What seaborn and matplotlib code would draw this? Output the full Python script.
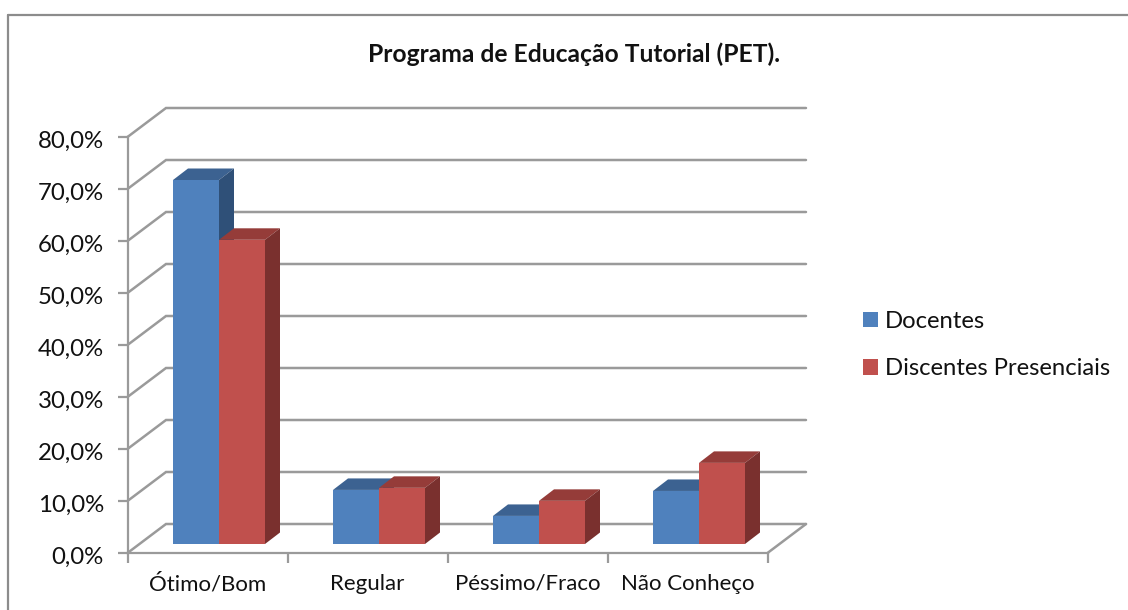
import matplotlib
matplotlib.use("Agg")
import matplotlib.pyplot as plt
from matplotlib.lines import Line2D
from matplotlib.patches import Polygon, Patch
from matplotlib.transforms import ScaledTranslation
import pandas as pd
import seaborn as sns

categorias = ["Ótimo/Bom", "Regular", "Péssimo/Fraco", "Não Conheço"]
docentes = [70.0, 10.4, 5.4, 10.2]
discentes = [58.5, 10.8, 8.3, 15.6]
series = ["Docentes", "Discentes Presenciais"]
y_ticks = [0, 10, 20, 30, 40, 50, 60, 70, 80]

W, H = 1128, 610
GRADE = "#9a9a9a"
cores = {"Docentes": "#4F81BD", "Discentes Presenciais": "#C0504D"}
topo = {"Docentes": "#3C6291", "Discentes Presenciais": "#953C39"}
lado = {"Docentes": "#2F5078", "Discentes Presenciais": "#7A302E"}


def rect(x0, y_topo, x1, y_base):
    """Converte pixels da imagem para a posicao da figura."""
    return [x0 / W, 1 - y_base / H, (x1 - x0) / W, (y_base - y_topo) / H]


sns.set_theme(style="white")
plt.rcParams["font.family"] = ["Lato", "DejaVu Sans"]

df = pd.DataFrame(
    {
        "categoria": categorias * 2,
        "serie": [series[0]] * 4 + [series[1]] * 4,
        "valor": docentes + discentes,
    }
)

fig = plt.figure(figsize=(W / 100, H / 100), dpi=100, facecolor="white")

# moldura externa
fig.add_artist(Line2D([8 / W, 8 / W], [0, 1 - 15 / H], color="#8c8c8c", lw=1.6))
fig.add_artist(Line2D([8 / W, 1], [1 - 15 / H, 1 - 15 / H], color="#8c8c8c", lw=1.6))

# plano frontal: eixos e rotulos
ax = fig.add_axes(rect(127.5, 137, 767.5, 553))
ax.set_xlim(0, 4)
ax.set_ylim(0, 80)
ax.patch.set_visible(False)
sns.despine(ax=ax)
for s in ["left", "bottom"]:
    ax.spines[s].set_color(GRADE)
    ax.spines[s].set_linewidth(1.6)
ax.set_yticks(y_ticks)
ax.set_yticklabels([f"{v:.1f}%".replace(".", ",") for v in y_ticks], fontsize=17.3, color="#111111")
ax.set_xticks(range(5))
ax.set_xticklabels([])
ax.set_xticks([i + 0.5 for i in range(4)], minor=True)
ax.set_xticklabels(categorias, minor=True, fontsize=16, color="#111111")
ax.tick_params(axis="both", which="major", length=7, width=1.6, color=GRADE, left=True, bottom=True, pad=3)
ax.tick_params(axis="y", pad=10)
ax.tick_params(axis="x", which="minor", length=0, pad=15)
desce = ScaledTranslation(0, -2 / 100, fig.dpi_scale_trans)
for rotulo in ax.get_yticklabels():
    rotulo.set_transform(rotulo.get_transform() + desce)

# parede do fundo e chao, com a profundidade em unidades dos dados
prof_x = 38.5 / 160
prof_y = 29 / 5.2
for v in y_ticks:
    ax.plot(
        [0, prof_x, 4 + prof_x], [v, v + prof_y, v + prof_y],
        color=GRADE, lw=1.8, clip_on=False, zorder=1, solid_joinstyle="miter",
    )
ax.plot([4, 4 + prof_x], [0, prof_y], color=GRADE, lw=1.8, clip_on=False, zorder=1)

# barras, deslocadas para dentro da profundidade
ax_b = fig.add_axes(rect(139, 128, 779, 544))
ax_b.patch.set_visible(False)
sns.barplot(
    data=df, x="categoria", y="valor", hue="serie", order=categorias, hue_order=series,
    palette=cores, width=0.575, gap=0, saturation=1, legend=False, ax=ax_b, zorder=5,
    linewidth=0,
)
ax_b.set_xlim(-0.5, 3.5)
ax_b.set_ylim(0, 80)
ax_b.axis("off")

bar_x = 15 / 160
bar_y = 11.5 / 5.2
for i, nome in enumerate(series):
    for bar in ax_b.containers[i]:
        x0 = bar.get_x()
        x1 = x0 + bar.get_width()
        h = bar.get_height()
        ax_b.add_patch(Polygon(
            [(x0, h), (x1, h), (x1 + bar_x, h + bar_y), (x0 + bar_x, h + bar_y)],
            closed=True, fc=topo[nome], ec="none", clip_on=False, zorder=3 + i,
        ))
        ax_b.add_patch(Polygon(
            [(x1, 0), (x1, h), (x1 + bar_x, h + bar_y), (x1 + bar_x, bar_y)],
            closed=True, fc=lado[nome], ec="none", clip_on=False, zorder=3 + i,
        ))

fig.text(574.5 / W, 1 - 54 / H, "Programa de Educação Tutorial (PET).", ha="center", va="center",
         fontsize=17.7, fontweight="bold", color="#111111")

handles = [Patch(fc=cores[s], ec="none") for s in series]
fig.legend(
    handles, series, loc="center left", bbox_to_anchor=(863 / W, 1 - 345 / H), frameon=False,
    fontsize=17.2, handlelength=0.63, handleheight=0.63, handletextpad=0.3, labelspacing=1.1,
    borderpad=0, borderaxespad=0, labelcolor="#111111",
)

fig.savefig("out.png", dpi=100)
